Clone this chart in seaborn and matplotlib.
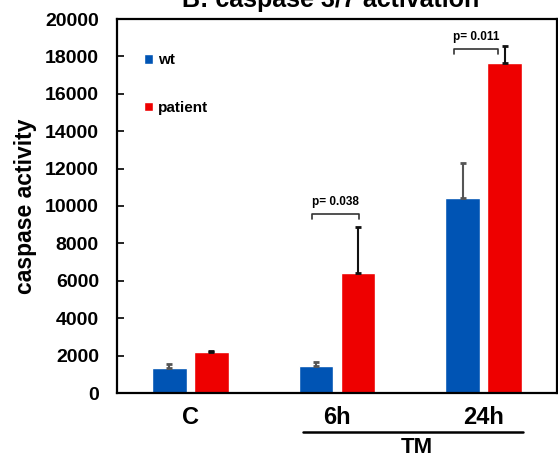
import matplotlib
matplotlib.use("Agg")
import matplotlib.pyplot as plt
import pandas as pd
import seaborn as sns

# values
groups = ["C", "6h", "24h"]
wt_mean = [1340, 1450, 10450]
wt_err = [210, 200, 1870]
patient_mean = [2190, 6420, 17650]
patient_err = [70, 2450, 900]
p_values = ["p= 0.038", "p= 0.011"]

blue = "#0054b4"
red = "#ee0000"

sns.set_theme(style="white")
plt.rcParams["font.family"] = ["Liberation Sans", "DejaVu Sans"]
plt.rcParams["font.weight"] = "bold"
plt.rcParams["text.color"] = "black"
plt.rcParams["axes.labelcolor"] = "black"
plt.rcParams["xtick.color"] = "black"
plt.rcParams["ytick.color"] = "black"

df = pd.DataFrame({
    "group": groups * 2,
    "value": wt_mean + patient_mean,
    "genotype": ["wt"] * 3 + ["patient"] * 3,
})

fig = plt.figure(figsize=(5.58, 4.57), dpi=100)
ax = fig.add_axes([117 / 558, 1 - 393 / 457, 440 / 558, 374 / 457])

sns.barplot(data=df, x="group", y="value", hue="genotype", order=groups,
            hue_order=["wt", "patient"], palette=[blue, red],
            width=0.57, gap=0.17, errorbar=None, saturation=1, ax=ax)

# error bars, upper side only
bars = ax.patches[:6]
errs = wt_err + patient_err
means = wt_mean + patient_mean
for i, b in enumerate(bars):
    xc = b.get_x() + b.get_width() / 2
    ec = "#555555" if i < 3 else "#111111"
    ax.errorbar(xc, means[i], yerr=[[0], [errs[i]]], fmt="none",
                ecolor=ec, elinewidth=1.5, capsize=2.5, capthick=2)

# significance brackets
for (x0, x1, y, ty), txt in zip([(0.83, 1.15, 9570, 10200), (1.80, 2.10, 18400, 19050)], p_values):
    ax.plot([x0, x0, x1, x1], [y - 250, y, y, y - 250], color="#333333", lw=1.2)
    ax.text((x0 + x1) / 2, ty, txt, ha="center", va="center", fontsize=8.5,
            fontweight="bold")

ax.set_ylim(0, 20000)
ax.set_xlim(-0.5, 2.5)
ax.set_yticks(range(0, 20001, 2000))
ax.set_xlabel("")
ax.set_ylabel("caspase activity", fontsize=16.5, fontweight="bold", labelpad=6)
ax.tick_params(axis="y", direction="in", length=5, width=1.2, left=True,
               labelsize=14, pad=13)
ax.tick_params(axis="x", length=0, labelsize=17, pad=9)
for lab in ax.get_xticklabels() + ax.get_yticklabels():
    lab.set_fontweight("bold")
for s in ax.spines.values():
    s.set_color("black")
    s.set_linewidth(1.6)

handles, labels = ax.get_legend_handles_labels()
ax.legend(handles, labels, loc="upper left", bbox_to_anchor=(0.03, 0.945),
          frameon=False, handlelength=0.6, handleheight=0.6, handletextpad=0.3,
          labelspacing=2.2, prop={"size": 11, "weight": "bold"})

# TM bracket under the treated groups
ax.plot([0.4227, 0.9227], [-0.104, -0.104], transform=ax.transAxes,
        color="black", lw=1.8, clip_on=False)
ax.text(0.682, -0.145, "TM", transform=ax.transAxes, ha="center", va="center",
        fontsize=16, fontweight="bold")

fig.text(331 / 558, 1 - 7 / 457, "B: caspase 3/7 activation", ha="center",
         va="baseline", fontsize=18, fontweight="bold")

fig.savefig("out.png", dpi=100)
